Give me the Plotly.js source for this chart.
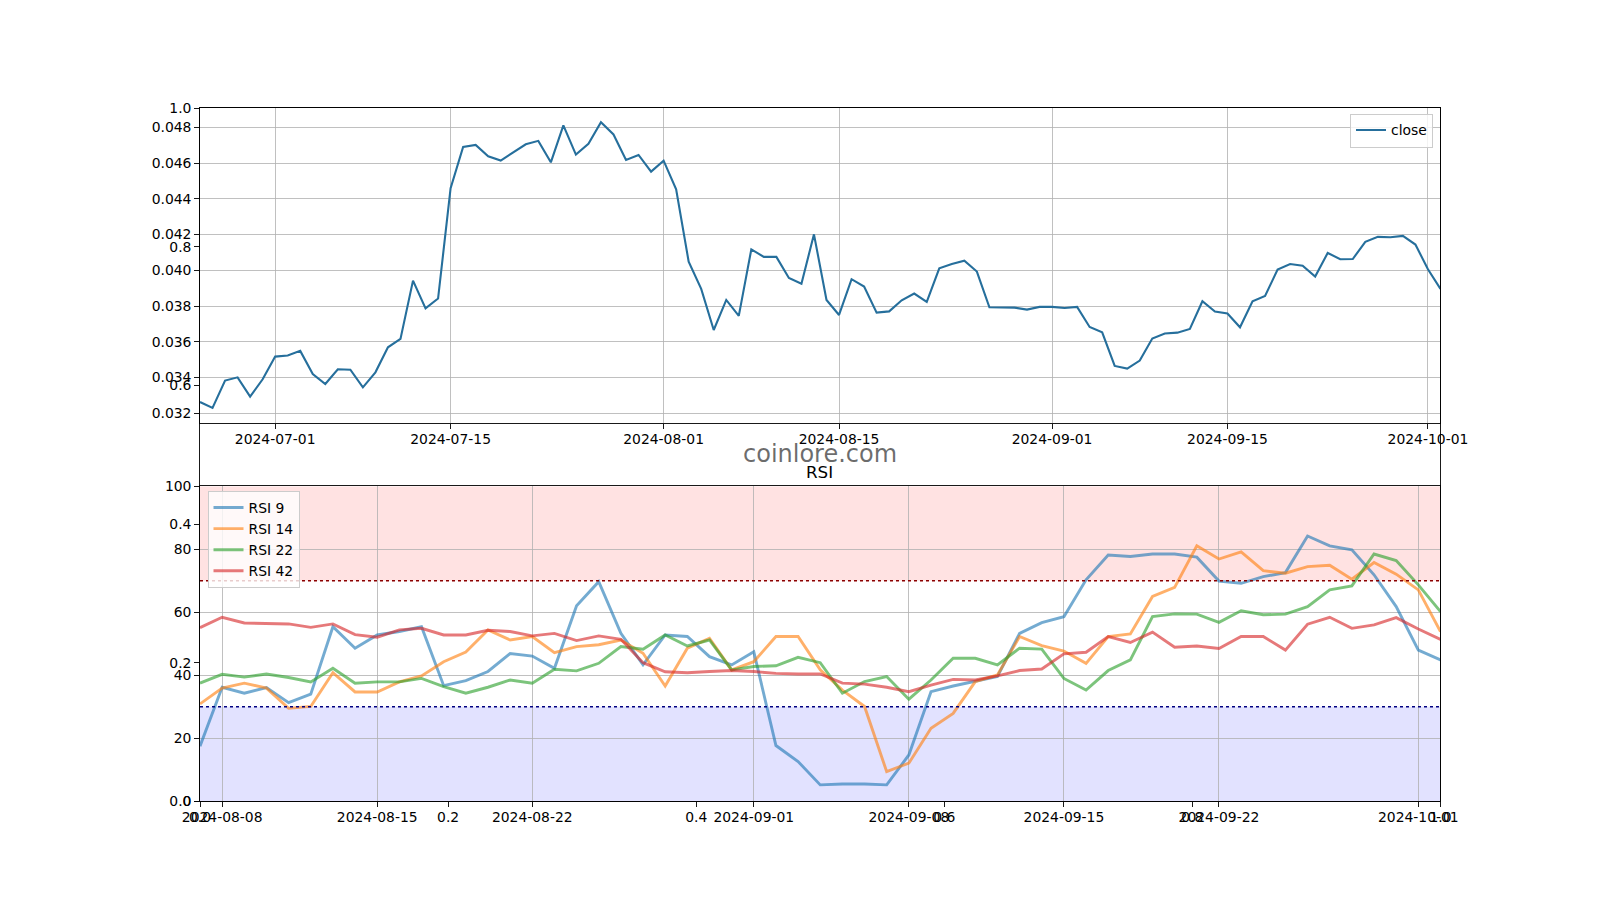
<!DOCTYPE html>
<html>
<head>
<meta charset="utf-8">
<script src="https://cdn.plot.ly/plotly-3.0.1.min.js"></script>
<style>
html,body{margin:0;padding:0;background:#fff;}
#chart{width:1600px;height:900px;}
</style>
</head>
<body>
<div id="chart"></div>
<script>
// ---------------- data ----------------
const closeStartDate = '2024-06-25';
const closeValues = [
  0.03263, 0.03230, 0.03383, 0.03401, 0.03293, 0.03390, 0.03517, 0.03523, 0.03549, 0.03420,
  0.03364, 0.03446, 0.03444, 0.03345, 0.03429, 0.03569, 0.03616, 0.03942, 0.03787, 0.03842,
  0.04459, 0.04690, 0.04701, 0.04638, 0.04614, 0.04658, 0.04705, 0.04724, 0.04604, 0.04811,
  0.04647, 0.04707, 0.04828, 0.04760, 0.04617, 0.04645, 0.04552, 0.04613, 0.04453, 0.04048,
  0.03896, 0.03666, 0.03834, 0.03745, 0.04117, 0.04075, 0.04075, 0.03957, 0.03925, 0.04201,
  0.03834, 0.03750, 0.03950, 0.03909, 0.03763, 0.03770, 0.03832, 0.03870, 0.03823, 0.04011,
  0.04035, 0.04054, 0.03993, 0.03793, 0.03793, 0.03791, 0.03780, 0.03795, 0.03795, 0.03789,
  0.03795, 0.03683, 0.03653, 0.03465, 0.03450, 0.03495, 0.03618, 0.03646, 0.03651, 0.03672,
  0.03827, 0.03769, 0.03758, 0.03681, 0.03827, 0.03856, 0.04004, 0.04035, 0.04026, 0.03965,
  0.04097, 0.04062, 0.04063, 0.04159, 0.04187, 0.04185, 0.04192, 0.04144, 0.04006, 0.03896
];

const rsiStartDate = '2024-08-07';
const rsi9 = [
  17.5, 36.2, 34.3, 36.1, 31.3, 34.0, 55.4, 48.6, 52.8, 53.9, 55.4, 36.7, 38.3, 41.2, 46.9, 46.1, 42.2, 62.1, 69.7,
  53.3, 43.3, 52.8, 52.3, 45.9, 43.3, 47.5, 17.7, 12.6, 5.2, 5.5, 5.5, 5.2, 14.7, 34.8, 36.6, 38.0, 39.6, 53.3,
  56.7, 58.6, 70.3, 78.2, 77.7, 78.5, 78.5, 77.5, 69.9, 69.2, 71.3, 72.6, 84.2, 81.1, 79.8, 71.9, 61.8, 48.0, 44.9
];
const rsi14 = [
  30.9, 35.9, 37.5, 35.9, 29.5, 30.1, 40.8, 34.7, 34.7, 37.9, 39.8, 44.3, 47.4, 54.4, 51.2, 52.3, 47.2, 49.1, 49.7,
  51.2, 47.0, 36.6, 48.6, 51.7, 41.7, 44.3, 52.3, 52.3, 41.7, 35.3, 30.1, 9.4, 12.1, 23.2, 27.9, 38.0, 40.1, 52.3,
  49.4, 47.7, 43.8, 52.3, 53.1, 65.0, 67.9, 81.1, 76.9, 79.2, 73.2, 72.4, 74.5, 74.9, 70.5, 75.8, 72.1, 67.1, 53.9
];
const rsi22 = [
  37.5, 40.3, 39.4, 40.4, 39.3, 37.9, 42.2, 37.5, 37.9, 37.9, 39.0, 36.4, 34.3, 36.2, 38.5, 37.5, 41.9, 41.4, 43.8,
  49.1, 48.3, 52.8, 49.3, 51.2, 41.7, 42.8, 43.0, 45.7, 44.0, 34.3, 38.0, 39.6, 32.4, 38.5, 45.4, 45.4, 43.3, 48.6,
  48.3, 39.0, 35.3, 41.5, 44.9, 58.6, 59.5, 59.4, 56.8, 60.5, 59.2, 59.4, 61.8, 67.1, 68.4, 78.5, 76.4, 68.7, 60.2
];
const rsi42 = [
  55.1, 58.4, 56.6, 56.5, 56.3, 55.2, 56.3, 52.9, 52.1, 54.4, 54.9, 52.8, 52.8, 54.3, 53.9, 52.5, 53.3, 51.0, 52.5,
  51.4, 44.0, 41.1, 40.8, 41.2, 41.5, 41.2, 40.6, 40.4, 40.4, 37.5, 37.2, 36.2, 34.8, 36.9, 38.7, 38.5, 39.8, 41.5,
  42.0, 46.8, 47.3, 52.3, 50.4, 53.7, 48.9, 49.3, 48.5, 52.3, 52.3, 48.0, 56.2, 58.4, 54.9, 56.0, 58.3, 54.7, 51.4
];

const rsiNames = ['RSI 9', 'RSI 14', 'RSI 22', 'RSI 42'];
const rsiColors = ['#1f77b4', '#ff7f0e', '#2ca02c', '#d62728'];

const closeTicks = ['2024-07-01','2024-07-15','2024-08-01','2024-08-15','2024-09-01','2024-09-15','2024-10-01'];
const rsiTicks = ['2024-08-08','2024-08-15','2024-08-22','2024-09-01','2024-09-08','2024-09-15','2024-09-22','2024-10-01'];
const priceTicks = [0.032, 0.034, 0.036, 0.038, 0.040, 0.042, 0.044, 0.046, 0.048];
const rsiYTicks = [0, 20, 40, 60, 80, 100];
const overlayTicks = [0, 0.2, 0.4, 0.6, 0.8, 1.0];
const overboughtLevel = 70;
const oversoldLevel = 30;

// daily date index
function dailyDates(start, n) {
  const out = [];
  const d0 = new Date(start + 'T00:00:00Z');
  for (let i = 0; i < n; i++) {
    const d = new Date(d0.getTime() + i * 86400000);
    out.push(d.toISOString().slice(0, 10));
  }
  return out;
}
const closeDates = dailyDates(closeStartDate, closeValues.length);
const rsiDates = dailyDates(rsiStartDate, rsi9.length);

// ---------------- plot ----------------
const FONT = 'DejaVu Sans, Liberation Sans, sans-serif';
const TICKFS = 13.9;

const traces = [
  {
    x: closeDates, y: closeValues, type: 'scatter', mode: 'lines', name: 'close',
    line: {color: '#266f9c', width: 2.1}, xaxis: 'x', yaxis: 'y', legend: 'legend'
  }
];
[rsi9, rsi14, rsi22, rsi42].forEach((vals, i) => {
  traces.push({
    x: rsiDates, y: vals, type: 'scatter', mode: 'lines', name: rsiNames[i],
    line: {color: rsiColors[i], width: 2.9}, opacity: 0.62,
    xaxis: 'x2', yaxis: 'y2', legend: 'legend2'
  });
});
traces.push({x: [], y: [], type: 'scatter', mode: 'lines', xaxis: 'x3', yaxis: 'y3', showlegend: false, hoverinfo: 'skip'});

const xDom = [0.125, 0.9003];
const axisCommon = {
  showline: true, mirror: true, linecolor: '#000', linewidth: 0.9,
  ticks: 'outside', ticklen: 4.9, tickwidth: 0.9, tickcolor: '#000',
  tickfont: {family: FONT, size: TICKFS, color: '#000'},
  gridcolor: '#b0b0b0', gridwidth: 0.8, zeroline: false
};

const layout = {
  width: 1600, height: 900,
  margin: {l: 0, r: 0, t: 0, b: 0, pad: 0},
  paper_bgcolor: '#ffffff',
  plot_bgcolor: 'rgba(0,0,0,0)',
  font: {family: FONT, size: TICKFS, color: '#000'},
  xaxis: Object.assign({}, axisCommon, {
    domain: xDom, anchor: 'y', type: 'date',
    range: ['2024-06-25', '2024-10-02'],
    tickvals: closeTicks, tickformat: '%Y-%m-%d', showgrid: true, ticklabelstandoff: -2
  }),
  yaxis: Object.assign({}, axisCommon, {
    domain: [0.5297, 0.8797], anchor: 'x',
    range: [0.031441, 0.049063],
    tickvals: priceTicks, tickformat: '.3f', showgrid: true
  }),
  xaxis2: Object.assign({}, axisCommon, {
    domain: xDom, anchor: 'y2', type: 'date',
    range: ['2024-08-07', '2024-10-02'],
    tickvals: rsiTicks, tickformat: '%Y-%m-%d', showgrid: true, ticklabelstandoff: -2
  }),
  yaxis2: Object.assign({}, axisCommon, {
    domain: [0.1097, 0.4597], anchor: 'x2',
    range: [0, 100], tickvals: rsiYTicks, showgrid: true
  }),
  xaxis3: Object.assign({}, axisCommon, {
    domain: xDom, anchor: 'y3', range: [0, 1],
    tickvals: overlayTicks, tickformat: '.1f', showgrid: false, ticklabelstandoff: -2
  }),
  yaxis3: Object.assign({}, axisCommon, {
    domain: [0.1097, 0.8797], anchor: 'x3', range: [0, 1],
    tickvals: overlayTicks, tickformat: '.1f', showgrid: false
  }),
  legend: {
    x: 1433 / 1600, y: 1 - 113.5 / 900, xanchor: 'right', yanchor: 'top',
    bgcolor: 'rgba(255,255,255,0.8)', bordercolor: '#cccccc', borderwidth: 1,
    font: {family: FONT, size: TICKFS, color: '#000'}
  },
  legend2: {
    x: 207.5 / 1600, y: 1 - 491 / 900, xanchor: 'left', yanchor: 'top',
    bgcolor: 'rgba(255,255,255,0.8)', bordercolor: '#cccccc', borderwidth: 1,
    font: {family: FONT, size: TICKFS, color: '#000'}, tracegroupgap: 0
  },
  shapes: [
    {type: 'rect', xref: 'x2 domain', yref: 'y2', x0: 0, x1: 1, y0: overboughtLevel, y1: 100,
     fillcolor: 'rgba(255,0,0,0.115)', line: {width: 0}, layer: 'below'},
    {type: 'rect', xref: 'x2 domain', yref: 'y2', x0: 0, x1: 1, y0: 0, y1: oversoldLevel,
     fillcolor: 'rgba(0,0,255,0.115)', line: {width: 0}, layer: 'below'},
    {type: 'line', xref: 'x2 domain', yref: 'y2', x0: 0, x1: 1, y0: overboughtLevel, y1: overboughtLevel,
     line: {color: '#8b0000', width: 1.6, dash: 'dot'}},
    {type: 'line', xref: 'x2 domain', yref: 'y2', x0: 0, x1: 1, y0: oversoldLevel, y1: oversoldLevel,
     line: {color: '#000080', width: 1.6, dash: 'dot'}}
  ],
  annotations: [
    {text: 'RSI', xref: 'paper', yref: 'paper', x: 820 / 1600, y: 1 - 484 / 900,
     xanchor: 'center', yanchor: 'bottom', showarrow: false,
     font: {family: FONT, size: 16.7, color: '#000'}},
    {text: 'coinlore.com', xref: 'paper', yref: 'paper', x: 820 / 1600, y: 1 - 454 / 900,
     xanchor: 'center', yanchor: 'middle', showarrow: false,
     font: {family: FONT, size: 24, color: 'rgba(60,60,60,0.75)'}}
  ],
  showlegend: true
};

Plotly.newPlot('chart', traces, layout, {staticPlot: true, displayModeBar: false});
</script>
</body>
</html>
